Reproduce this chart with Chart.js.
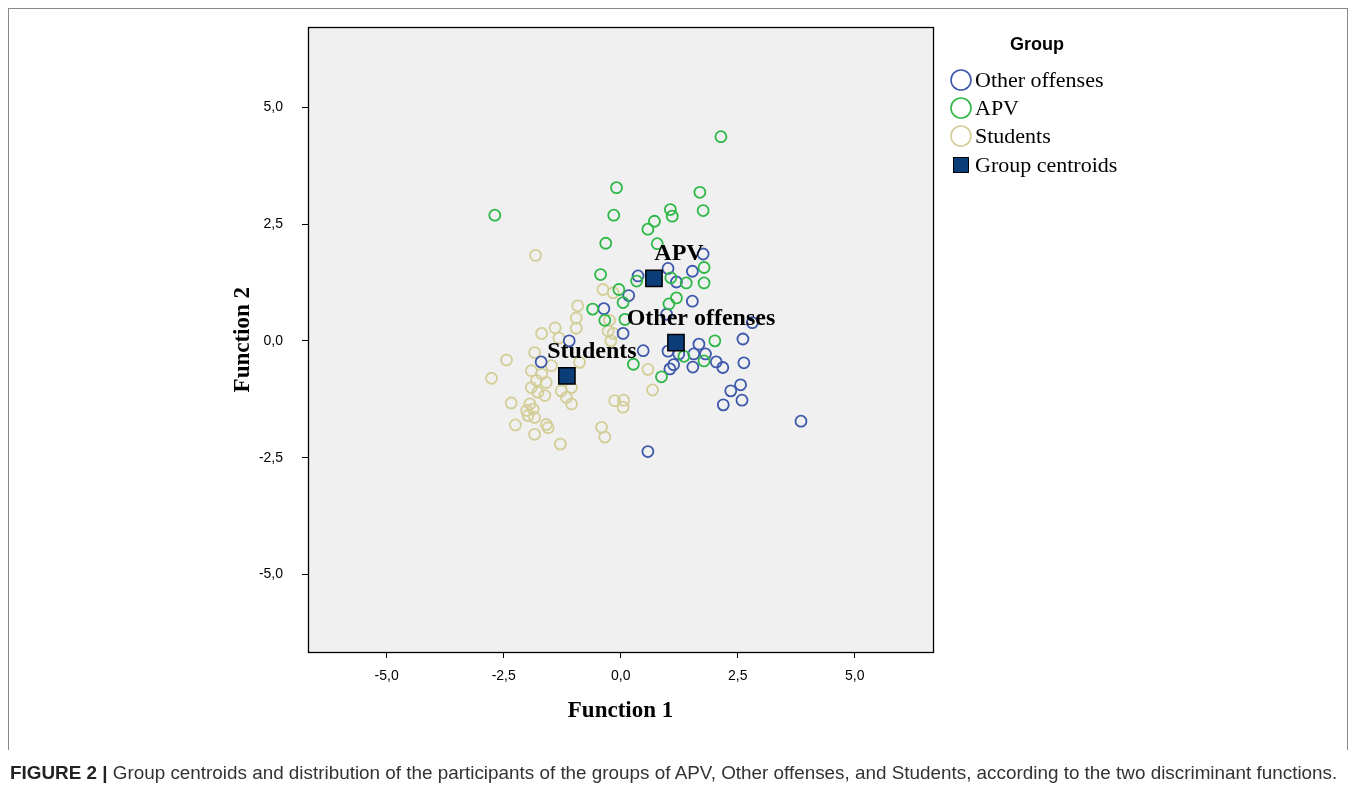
<!DOCTYPE html>
<html><head><meta charset="utf-8">
<script src="https://cdn.jsdelivr.net/npm/chart.js@4/dist/chart.umd.min.js"></script>
<style>
html,body{margin:0;padding:0;background:#fff;width:1355px;height:795px;overflow:hidden;}
#frame{position:absolute;left:8px;top:8px;width:1340px;height:742px;border-left:1px solid #888;border-top:1px solid #888;border-right:1px solid #888;box-sizing:border-box;}
#wrap{position:absolute;left:0;top:0;width:1355px;height:795px;}
#caption{position:absolute;left:10px;top:762px;font-family:"Liberation Sans",Arial,sans-serif;font-size:16px;color:#333;white-space:nowrap;}
#caption b{color:#222;}
</style></head><body>
<div id="frame"></div>
<div id="wrap"><canvas id="c" width="1355" height="795"></canvas></div>
<div id="caption"><b>FIGURE 2 |</b> Group centroids and distribution of the participants of the groups of APV, Other offenses, and Students, according to the two discriminant functions.</div>
<script>
// ---- data ----
const otherX = [1.76,0.37,1.01,1.53,1.19,0.17,1.53,-0.36,0.98,0.05,2.81,2.61,1.67,0.48,1.01,1.24,1.56,1.81,2.04,2.18,1.54,1.13,1.05,2.63,2.56,2.35,2.59,2.19,3.85,0.58,-1.10,-1.70];
const otherY = [1.86,1.39,1.55,1.49,1.26,0.97,0.85,0.69,0.57,0.16,0.39,0.04,-0.07,-0.21,-0.22,-0.28,-0.28,-0.28,-0.45,-0.57,-0.56,-0.51,-0.60,-0.47,-0.94,-1.07,-1.27,-1.37,-1.72,-2.37,0.00,-0.45];
const apvX = [-2.69,-0.09,-0.15,2.14,1.69,1.76,1.06,1.10,0.72,0.58,-0.32,0.78,-0.43,-0.60,-0.34,-0.04,0.05,0.34,1.78,1.07,1.40,1.78,1.19,1.03,0.09,2.01,1.35,1.78,0.27,0.87];
const apvY = [2.69,3.28,2.69,4.37,3.18,2.79,2.81,2.67,2.56,2.39,2.09,2.08,1.42,0.68,0.44,1.10,0.82,1.28,1.57,1.35,1.24,1.24,0.92,0.79,0.46,0.00,-0.33,-0.43,-0.50,-0.77];
const studentsX = [-1.82,-0.38,-0.16,-0.92,-0.95,-0.24,-1.40,-0.95,-1.69,-0.16,-0.21,-1.32,-1.84,-2.44,-2.76,-1.48,-0.88,-1.91,-1.69,-1.80,-1.59,-1.91,-1.77,-1.62,-1.27,-1.16,-1.05,-2.34,-1.94,-2.01,-1.87,-1.98,-1.84,-2.25,-1.84,-1.59,-1.55,-1.29,-0.41,-0.34,-0.13,0.06,0.05,0.58,0.68,-1.05,-0.27];
const studentsY = [1.83,1.10,1.03,0.75,0.49,0.44,0.28,0.27,0.16,0.16,0.00,0.06,-0.25,-0.41,-0.80,-0.53,-0.46,-0.64,-0.71,-0.85,-0.89,-1.00,-1.10,-1.17,-1.07,-1.21,-1.35,-1.33,-1.35,-1.49,-1.46,-1.60,-1.64,-1.80,-2.00,-1.79,-1.86,-2.21,-1.85,-2.06,-1.28,-1.27,-1.42,-0.61,-1.05,-1.00,0.21];
const centroidGroups = ['APV','Other offenses','Students'];
const centroidX = [0.71,1.18,-1.15];
const centroidY = [1.34,-0.04,-0.75];
const tickValues = [-5,-2.5,0,2.5,5];
const legendTitle = 'Group';
const seriesNames = ['Other offenses','APV','Students','Group centroids'];

const zip = (xs, ys) => xs.map((x,i) => ({x, y: ys[i]}));
const fmt = v => Number(v).toFixed(1).replace('.', ',');
const COLORS = ['#3E58AC','#2EB848','#D3CE97','#0B3D78'];

const bgPlugin = {
  id:'bg',
  beforeDraw(chart){
    const {ctx, chartArea:a} = chart;
    ctx.save(); ctx.fillStyle = '#f0f0f0';
    ctx.fillRect(a.left, a.top, a.right-a.left, a.bottom-a.top);
    ctx.restore();
  },
  afterDraw(chart){
    const {ctx, chartArea:a} = chart;
    ctx.save(); ctx.strokeStyle = '#000'; ctx.lineWidth = 1.3;
    ctx.strokeRect(Math.round(a.left)+0.5, Math.round(a.top)+0.5, Math.round(a.right-a.left), Math.round(a.bottom-a.top));
    ctx.restore();
  }
};

const labelPlugin = {
  id:'centroidLabels',
  afterDatasetsDraw(chart){
    const {ctx} = chart, sx = chart.scales.x, sy = chart.scales.y;
    ctx.save();
    ctx.font = 'bold 24px "Liberation Serif"';
    ctx.fillStyle = '#000'; ctx.textAlign = 'center'; ctx.textBaseline = 'middle';
    centroidGroups.forEach((g,i) => {
      const px = sx.getPixelForValue(centroidX[i]), py = sy.getPixelForValue(centroidY[i]);
      ctx.fillText(g, px + 25, py - 24);
    });
    ctx.restore();
  }
};

const legendPlugin = {
  id:'customLegend',
  afterDraw(chart){
    const {ctx} = chart;
    ctx.save();
    ctx.fillStyle = '#000';
    ctx.font = 'bold 18px "Liberation Sans"';
    ctx.textAlign = 'center'; ctx.textBaseline = 'middle';
    ctx.fillText(legendTitle, 1037, 45);
    const ys = [80, 108, 136, 165];
    ctx.textAlign = 'left';
    ctx.font = '22px "Liberation Serif"';
    seriesNames.forEach((n,i) => {
      const ds = chart.data.datasets[i];
      if (i < 3) {
        ctx.beginPath(); ctx.arc(961, ys[i], 10, 0, Math.PI*2);
        ctx.strokeStyle = ds.borderColor; ctx.lineWidth = 1.6; ctx.stroke();
      } else {
        ctx.fillStyle = ds.backgroundColor; ctx.fillRect(953, ys[i]-8, 16, 16);
        ctx.strokeStyle = '#000'; ctx.lineWidth = 1; ctx.strokeRect(953.5, ys[i]-7.5, 15, 15);
      }
      ctx.fillStyle = '#000';
      ctx.fillText(n, 975, ys[i]+1);
    });
    ctx.restore();
  }
};

const axisCommon = (titleText) => ({
  type:'linear',
  afterBuildTicks(s){ s.ticks = tickValues.map(v => ({value:v})); },
  ticks:{callback:fmt, font:{family:'Liberation Sans', size:14}, color:'#000', maxRotation:0, autoSkip:false},
  grid:{drawOnChartArea:false, drawTicks:true, tickLength:6, color:'#000', lineWidth:1},
  border:{display:true, color:'#000', width:1},
  title:{display:true, text:titleText, font:{family:'Liberation Serif', size:23, weight:'bold'}, color:'#000', padding:0}
});

const xAxis = Object.assign(axisCommon('Function 1'), {min:-6.68, max:6.67, afterFit(s){ s.height = 73; }});
xAxis.ticks.padding = 10;
const yAxis = Object.assign(axisCommon('Function 2'), {min:-6.66, max:6.71, afterFit(s){ s.width = 79; }});
yAxis.ticks.padding = 19;

new Chart(document.getElementById('c'), {
  type:'scatter',
  data:{datasets:[
    {label:seriesNames[0], data:zip(otherX, otherY), pointStyle:'circle', pointRadius:5.5, borderColor:COLORS[0], backgroundColor:'rgba(0,0,0,0)', borderWidth:1.8, order:3},
    {label:seriesNames[1], data:zip(apvX, apvY), pointStyle:'circle', pointRadius:5.5, borderColor:COLORS[1], backgroundColor:'rgba(0,0,0,0)', borderWidth:1.8, order:2},
    {label:seriesNames[2], data:zip(studentsX, studentsY), pointStyle:'circle', pointRadius:5.5, borderColor:COLORS[2], backgroundColor:'rgba(0,0,0,0)', borderWidth:1.8, order:4},
    {label:seriesNames[3], data:zip(centroidX, centroidY), pointStyle:'rect', pointRadius:11.5, borderColor:'#000', backgroundColor:COLORS[3], borderWidth:1.5, order:0}
  ]},
  options:{
    responsive:false, animation:false, devicePixelRatio:1,
    layout:{padding:{left:229, right:422, top:25, bottom:70}},
    plugins:{legend:{display:false}, tooltip:{enabled:false}},
    events:[],
    scales:{x:xAxis, y:yAxis}
  },
  plugins:[bgPlugin, labelPlugin, legendPlugin]
});

// fit caption to its measured span
(function(){
  const c = document.getElementById('caption');
  const target = 1328;
  const w = c.getBoundingClientRect().width;
  if (w > 0) c.style.fontSize = (16 * target / w).toFixed(2) + 'px';
})();
</script>
</body></html>
